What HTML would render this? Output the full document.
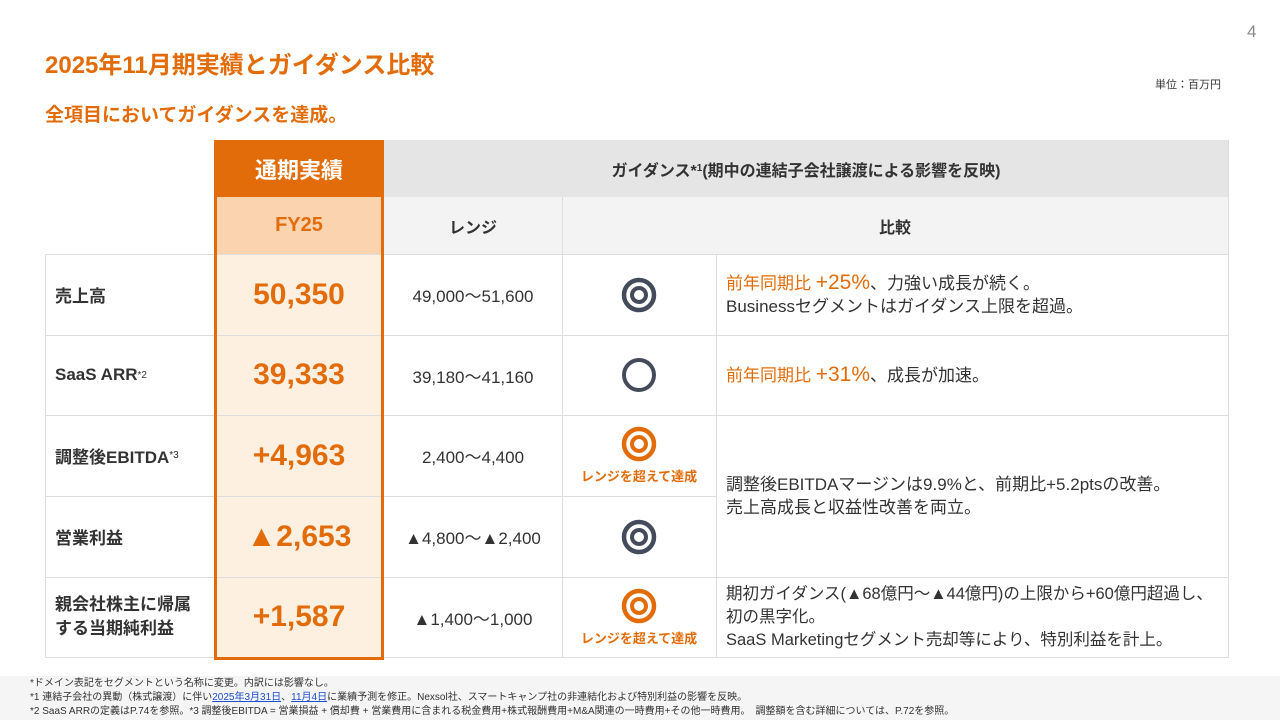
<!DOCTYPE html>
<html><head><meta charset="utf-8"><style>
*{margin:0;padding:0;box-sizing:border-box}
body{width:1280px;height:720px;background:#fff;position:relative;overflow:hidden;font-family:"Liberation Sans","Noto Sans CJK JP",sans-serif;color:#333}
.a{position:absolute}
.c{display:flex;align-items:center;justify-content:center;text-align:center}
.l{display:flex;align-items:center}
.o{color:#E36C0A}
.hl{position:absolute;height:1px;background:#ddd}
.vl{position:absolute;width:1px;background:#ddd}
.big{font-size:30px;color:#E36C0A;font-weight:bold}
.lab{font-size:17px;font-weight:bold;color:#333;padding-left:10px}
.rng{font-size:17px;color:#333}
.cmp{font-size:17px;color:#333;padding-left:10px;line-height:23px}
</style></head><body>
<div class="a" style="left:1247px;top:22px;font-size:17px;color:#888">4</div>
<div class="a" style="left:45px;top:45px;font-size:24px;font-weight:bold;color:#E36C0A">2025年11月期実績とガイダンス比較</div>
<div class="a" style="left:1155px;top:76px;font-size:11px;color:#333">単位：百万円</div>
<div class="a" style="left:45px;top:100px;font-size:19px;font-weight:bold;color:#E36C0A">全項目においてガイダンスを達成。</div>

<div class="a" style="left:384px;top:140px;width:844px;height:57px;background:#e5e5e5"></div>
<div class="a c" style="left:384px;top:140px;width:844px;height:57px;font-size:16px;font-weight:bold;color:#333">ガイダンス*<sup style="font-size:10px">1</sup>(期中の連結子会社譲渡による影響を反映)</div>
<div class="a" style="left:384px;top:197px;width:844px;height:57px;background:#f3f3f3"></div>
<div class="a c" style="left:384px;top:197px;width:178px;height:57px;font-size:16px;font-weight:bold">レンジ</div>
<div class="a c" style="left:562px;top:197px;width:666px;height:57px;font-size:16px;font-weight:bold">比較</div>
<div class="a" style="left:214px;top:140px;width:170px;height:57px;background:#E36C0A"></div>
<div class="a c" style="left:214px;top:140px;width:170px;height:57px;font-size:22px;font-weight:bold;color:#fff">通期実績</div>
<div class="a" style="left:214px;top:197px;width:170px;height:57px;background:#FBD3AF"></div>
<div class="a c" style="left:214px;top:197px;width:170px;height:57px;font-size:20px;font-weight:bold;color:#E36C0A">FY25</div>
<div class="a" style="left:214px;top:254px;width:170px;height:404px;background:#FEF0E0"></div>

<div class="hl" style="left:45px;top:254px;width:1183px"></div>
<div class="hl" style="left:45px;top:335px;width:1183px"></div>
<div class="hl" style="left:45px;top:415px;width:1183px"></div>
<div class="hl" style="left:45px;top:496px;width:671px"></div>
<div class="hl" style="left:45px;top:577px;width:1183px"></div>
<div class="hl" style="left:45px;top:657px;width:1183px"></div>
<div class="vl" style="left:45px;top:254px;height:404px"></div>
<div class="vl" style="left:562px;top:197px;height:461px"></div>
<div class="vl" style="left:716px;top:254px;height:404px"></div>
<div class="vl" style="left:1228px;top:140px;height:518px"></div>
<div class="a" style="left:214px;top:140px;width:170px;height:520px;border:3px solid #E36C0A"></div>

<div class="a l lab" style="left:45px;top:254px;width:169px;height:81px">売上高</div>
<div class="a l lab" style="left:45px;top:335px;width:169px;height:80px">SaaS ARR<sup style="font-size:10px;font-weight:normal">*2</sup></div>
<div class="a l lab" style="left:45px;top:415px;width:169px;height:81px">調整後EBITDA<sup style="font-size:10px;font-weight:normal">*3</sup></div>
<div class="a l lab" style="left:45px;top:496px;width:169px;height:81px">営業利益</div>
<div class="a l lab" style="left:45px;top:577px;width:169px;height:80px;line-height:24px">親会社株主に帰属<br>する当期純利益</div>

<div class="a c big" style="left:214px;top:254px;width:170px;height:81px">50,350</div>
<div class="a c big" style="left:214px;top:335px;width:170px;height:80px">39,333</div>
<div class="a c big" style="left:214px;top:415px;width:170px;height:81px">+4,963</div>
<div class="a c big" style="left:214px;top:496px;width:170px;height:81px">▲2,653</div>
<div class="a c big" style="left:214px;top:577px;width:170px;height:80px">+1,587</div>

<div class="a c rng" style="left:384px;top:254px;width:178px;height:81px">49,000〜51,600</div>
<div class="a c rng" style="left:384px;top:335px;width:178px;height:80px">39,180〜41,160</div>
<div class="a c rng" style="left:384px;top:415px;width:178px;height:81px">2,400〜4,400</div>
<div class="a c rng" style="left:384px;top:496px;width:178px;height:81px">▲4,800〜▲2,400</div>
<div class="a c rng" style="left:384px;top:577px;width:178px;height:80px">▲1,400〜1,000</div>

<div class="a c" style="left:562px;top:254px;width:154px;height:81px"><svg width="36" height="36"><circle cx="18" cy="18" r="15" fill="none" stroke="#444b5a" stroke-width="4.5"/><circle cx="18" cy="18" r="7" fill="none" stroke="#444b5a" stroke-width="4"/></svg></div>
<div class="a c" style="left:562px;top:335px;width:154px;height:80px"><svg width="36" height="36"><circle cx="18" cy="18" r="15" fill="none" stroke="#444b5a" stroke-width="4"/></svg></div>
<div class="a c" style="left:562px;top:415px;width:154px;height:81px;flex-direction:column"><svg width="36" height="36"><circle cx="18" cy="18" r="15" fill="none" stroke="#E36C0A" stroke-width="4.5"/><circle cx="18" cy="18" r="7" fill="none" stroke="#E36C0A" stroke-width="4"/></svg><div style="font-size:13px;font-weight:bold;color:#E36C0A;margin-top:4px">レンジを超えて達成</div></div>
<div class="a c" style="left:562px;top:496px;width:154px;height:81px"><svg width="36" height="36"><circle cx="18" cy="18" r="15" fill="none" stroke="#444b5a" stroke-width="4.5"/><circle cx="18" cy="18" r="7" fill="none" stroke="#444b5a" stroke-width="4"/></svg></div>
<div class="a c" style="left:562px;top:577px;width:154px;height:80px;flex-direction:column"><svg width="36" height="36"><circle cx="18" cy="18" r="15" fill="none" stroke="#E36C0A" stroke-width="4.5"/><circle cx="18" cy="18" r="7" fill="none" stroke="#E36C0A" stroke-width="4"/></svg><div style="font-size:13px;font-weight:bold;color:#E36C0A;margin-top:4px">レンジを超えて達成</div></div>

<div class="a l cmp" style="left:716px;top:254px;width:512px;height:81px"><div><span class="o">前年同期比 <span style="font-size:21px">+25%</span></span>、力強い成長が続く。<br>Businessセグメントはガイダンス上限を超過。</div></div>
<div class="a l cmp" style="left:716px;top:335px;width:512px;height:80px"><div><span class="o">前年同期比 <span style="font-size:21px">+31%</span></span>、成長が加速。</div></div>
<div class="a l cmp" style="left:716px;top:415px;width:512px;height:162px"><div>調整後EBITDAマージンは9.9%と、前期比+5.2ptsの改善。<br>売上高成長と収益性改善を両立。</div></div>
<div class="a l cmp" style="left:716px;top:577px;width:512px;height:80px;font-size:16.5px"><div>期初ガイダンス(▲68億円〜▲44億円)の上限から+60億円超過し、<br>初の黒字化。<br>SaaS Marketingセグメント売却等により、特別利益を計上。</div></div>

<div class="a" style="left:0;top:676px;width:1280px;height:44px;background:#f5f5f5"></div>
<div class="a" style="left:30px;top:677px;font-size:10px;line-height:14px;color:#333">*ドメイン表記をセグメントという名称に変更。内訳には影響なし。<br>*1 連結子会社の異動（株式譲渡）に伴い<span style="color:#1a4fd0;text-decoration:underline">2025年3月31日</span>、<span style="color:#1a4fd0;text-decoration:underline">11月4日</span>に業績予測を修正。Nexsol社、スマートキャンプ社の非連結化および特別利益の影響を反映。<br>*2 SaaS ARRの定義はP.74を参照。*3 調整後EBITDA = 営業損益 + 償却費 + 営業費用に含まれる税金費用+株式報酬費用+M&amp;A関連の一時費用+その他一時費用。　調整額を含む詳細については、P.72を参照。</div>
</body></html>
